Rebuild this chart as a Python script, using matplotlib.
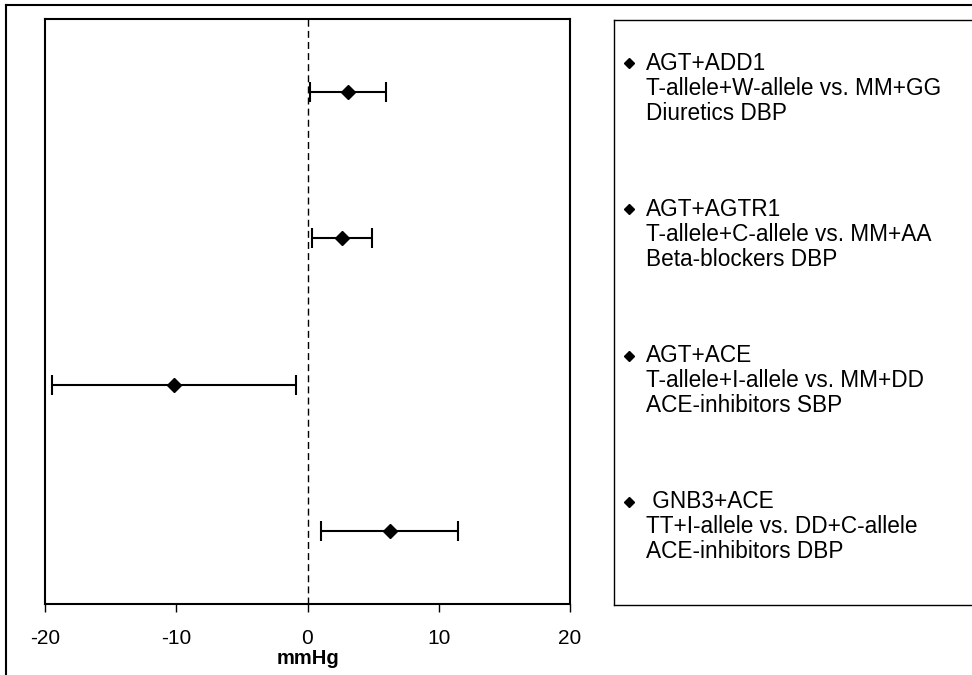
import numpy as np
import matplotlib.pyplot as plt
from matplotlib.lines import Line2D

plt.rcParams['font.family'] = ['Liberation Sans', 'DejaVu Sans']
plt.rcParams['axes.unicode_minus'] = False

# forest plot data (mmHg), top to bottom
means = [3.1, 2.65, -10.2, 6.3]
lower = [0.2, 0.35, -19.5, 1.0]
upper = [6.0, 4.95, -0.9, 11.45]
ypos = [3.5, 2.5, 1.5, 0.5]

legend_lines = [
    ["AGT+ADD1", "T-allele+W-allele vs. MM+GG", "Diuretics DBP"],
    ["AGT+AGTR1", "T-allele+C-allele vs. MM+AA", "Beta-blockers DBP"],
    ["AGT+ACE", "T-allele+I-allele vs. MM+DD", "ACE-inhibitors SBP"],
    [" GNB3+ACE", "TT+I-allele vs. DD+C-allele", "ACE-inhibitors DBP"],
]
xticks = [-20, -10, 0, 10, 20]

W, H = 972, 675
fig = plt.figure(figsize=(W / 100, H / 100), dpi=100)

# outer frame (top and left edges visible)
fig.add_artist(Line2D([6 / W, 6 / W], [0, 1 - 5 / H], color='black', lw=1.5))
fig.add_artist(Line2D([6 / W, 1], [1 - 5 / H, 1 - 5 / H], color='black', lw=1.5))

ax = fig.add_axes([45 / W, 1 - 604 / H, 525 / W, 585 / H])
m = np.array(means)
err = np.array([m - np.array(lower), np.array(upper) - m])
ax.errorbar(means, ypos, xerr=err, fmt='D', color='black', ms=7,
            elinewidth=1.5, capsize=7, capthick=1.5)
ax.axvline(0, color='black', lw=1, ls=(0, (5, 3)))
ax.set_xlim(-20, 20)
ax.set_ylim(0, 4)
ax.set_xticks(xticks)
ax.set_yticks([])
ax.tick_params(axis='x', direction='out', length=6, width=1, labelsize=15, pad=12)
for s in ax.spines.values():
    s.set_linewidth(1.5)
ax.set_xlabel('mmHg', fontsize=14.5, fontweight='bold', labelpad=1)

# legend box drawn as its own axes
lg = fig.add_axes([614 / W, 1 - 605 / H, 400 / W, 585 / H])
lg.set_xlim(0, 400)
lg.set_ylim(0, 4)
lg.set_xticks([])
lg.set_yticks([])
lg.spines['right'].set_visible(False)
for s in ['left', 'top', 'bottom']:
    lg.spines[s].set_linewidth(1)
offsets = [0.205, 0.034, -0.137]
for y, lines in zip(ypos, legend_lines):
    lg.plot([15], [y + offsets[0]], marker='D', color='black', ms=5)
    for k, (txt, off) in enumerate(zip(lines, offsets)):
        lg.text(32, y + off, txt, fontsize=16.3, va='center', ha='left')

fig.savefig('out.png', dpi=100)
